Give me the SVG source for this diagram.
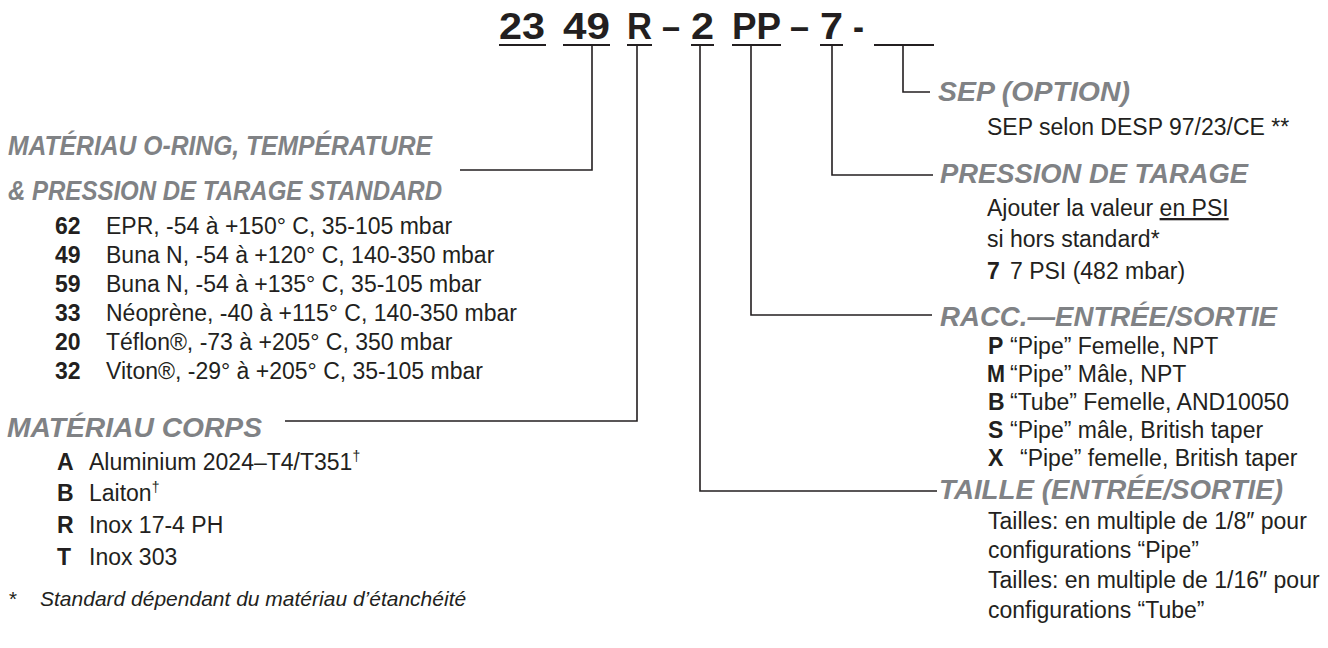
<svg xmlns="http://www.w3.org/2000/svg" width="1328" height="648" viewBox="0 0 1328 648">
<style>
text{font-family:"Liberation Sans",Arial,sans-serif;fill:#231f20}
.t{font-size:37px;font-weight:bold}
.h{font-size:27px;font-weight:bold;font-style:italic;fill:#808285}
.b{font-size:23px}
.k{font-size:23px;font-weight:bold}
.f{font-size:21px;font-style:italic}
.ul{stroke:#231f20;stroke-width:2;fill:none}
.c{stroke:#231f20;stroke-width:1.6;fill:none}
</style>
<g id="title">
<text class="t" x="499" y="39" textLength="46" lengthAdjust="spacingAndGlyphs">23</text>
<text class="t" x="563" y="39" textLength="47" lengthAdjust="spacingAndGlyphs">49</text>
<text class="t" x="627" y="39" textLength="25" lengthAdjust="spacingAndGlyphs">R</text>
<text class="t" x="662" y="39" textLength="18" lengthAdjust="spacingAndGlyphs">–</text>
<text class="t" x="691" y="39" textLength="23" lengthAdjust="spacingAndGlyphs">2</text>
<text class="t" x="732" y="39" textLength="49" lengthAdjust="spacingAndGlyphs">PP</text>
<text class="t" x="790" y="39" textLength="19" lengthAdjust="spacingAndGlyphs">–</text>
<text class="t" x="820" y="39" textLength="23" lengthAdjust="spacingAndGlyphs">7</text>
<text class="t" x="853" y="39" textLength="11" lengthAdjust="spacingAndGlyphs">-</text>
<path class="ul" d="M499 45H546M563 45H610M627 45H652M691 45H714M732 45H781M820 45H843M874 45H934"/>
</g>
<g id="connectors">
<path class="c" d="M592 46V170H460"/>
<path class="c" d="M637 46V421H285"/>
<path class="c" d="M700 46V491H937"/>
<path class="c" d="M751 46V315H932"/>
<path class="c" d="M832 46V175H933"/>
<path class="c" d="M903 46V92H930"/>
</g>
<g id="oring">
<text class="h" x="8" y="155" textLength="424" lengthAdjust="spacingAndGlyphs">MATÉRIAU O-RING, TEMPÉRATURE</text>
<text class="h" x="8" y="200" textLength="434" lengthAdjust="spacingAndGlyphs">&amp; PRESSION DE TARAGE STANDARD</text>
<text class="k" x="55" y="234">62</text><text class="b" x="106" y="234">EPR, -54 à +150° C, 35-105 mbar</text>
<text class="k" x="55" y="263">49</text><text class="b" x="106" y="263">Buna N, -54 à +120° C, 140-350 mbar</text>
<text class="k" x="55" y="292">59</text><text class="b" x="106" y="292">Buna N, -54 à +135° C, 35-105 mbar</text>
<text class="k" x="55" y="321">33</text><text class="b" x="106" y="321">Néoprène, -40 à +115° C, 140-350 mbar</text>
<text class="k" x="55" y="350">20</text><text class="b" x="106" y="350">Téflon®, -73 à +205° C, 350 mbar</text>
<text class="k" x="55" y="379">32</text><text class="b" x="106" y="379">Viton®, -29° à +205° C, 35-105 mbar</text>
</g>
<g id="corps">
<text class="h" x="7" y="437" textLength="255" lengthAdjust="spacingAndGlyphs">MATÉRIAU CORPS</text>
<text class="k" x="57" y="470">A</text><text class="b" x="89" y="470">Aluminium 2024–T4/T351<tspan font-size="14" dy="-9">†</tspan></text>
<text class="k" x="57" y="501">B</text><text class="b" x="89" y="501">Laiton<tspan font-size="14" dy="-9">†</tspan></text>
<text class="k" x="57" y="533">R</text><text class="b" x="89" y="533">Inox 17-4 PH</text>
<text class="k" x="57" y="565">T</text><text class="b" x="89" y="565">Inox 303</text>
</g>
<g id="sep">
<text class="h" x="938" y="101" textLength="192" lengthAdjust="spacingAndGlyphs">SEP (OPTION)</text>
<text class="b" x="987" y="135">SEP selon DESP 97/23/CE **</text>
</g>
<g id="pression">
<text class="h" x="940" y="183" textLength="308" lengthAdjust="spacingAndGlyphs">PRESSION DE TARAGE</text>
<text class="b" x="987" y="216">Ajouter la valeur <tspan text-decoration="underline">en PSI</tspan></text>
<text class="b" x="987" y="247">si hors standard*</text>
<text class="k" x="987" y="279">7</text><text class="b" x="1010" y="279">7 PSI (482 mbar)</text>
</g>
<g id="raccord">
<text class="h" x="940" y="326" textLength="337" lengthAdjust="spacingAndGlyphs">RACC.—ENTRÉE/SORTIE</text>
<text class="k" x="988" y="354">P</text><text class="b" x="1010" y="354">“Pipe” Femelle, NPT</text>
<text class="k" x="987" y="382" textLength="18" lengthAdjust="spacingAndGlyphs">M</text><text class="b" x="1010" y="382">“Pipe” Mâle, NPT</text>
<text class="k" x="988" y="410">B</text><text class="b" x="1010" y="410">“Tube” Femelle, AND10050</text>
<text class="k" x="988" y="438">S</text><text class="b" x="1010" y="438">“Pipe” mâle, British taper</text>
<text class="k" x="988" y="466">X</text><text class="b" x="1020" y="466">“Pipe” femelle, British taper</text>
</g>
<g id="taille">
<text class="h" x="939" y="499" textLength="344" lengthAdjust="spacingAndGlyphs">TAILLE (ENTRÉE/SORTIE)</text>
<text class="b" x="988" y="529">Tailles: en multiple de 1/8″ pour</text>
<text class="b" x="988" y="558">configurations “Pipe”</text>
<text class="b" x="988" y="588">Tailles: en multiple de 1/16″ pour</text>
<text class="b" x="988" y="618">configurations “Tube”</text>
</g>
<g id="footnote">
<text class="f" x="8" y="606">*</text>
<text class="f" x="40" y="606">Standard dépendant du matériau d’étanchéité</text>
</g>
</svg>
